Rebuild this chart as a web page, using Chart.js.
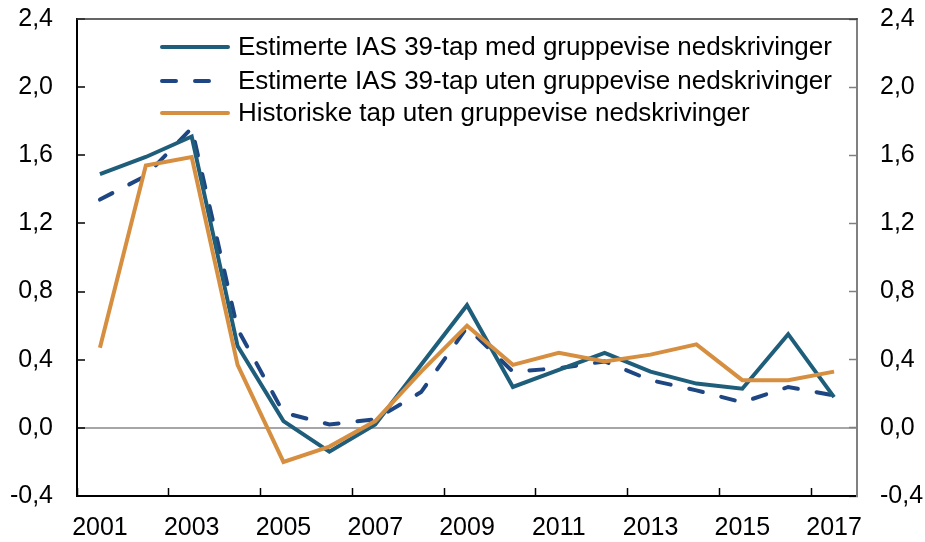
<!DOCTYPE html>
<html>
<head>
<meta charset="utf-8">
<script src="https://cdn.jsdelivr.net/npm/chart.js@4/dist/chart.umd.min.js"></script>
<style>
  html, body { margin: 0; padding: 0; background: #fff; }
  #chart { display: block; }
</style>
</head>
<body>
<canvas id="chart" width="925" height="542"></canvas>
<script>
// --- Data ---
const years = ['2001', '2002', '2003', '2004', '2005', '2006', '2007', '2008', '2009',
               '2010', '2011', '2012', '2013', '2014', '2015', '2016', '2017'];

const medGruppevise = [1.49, 1.59, 1.71, 0.48, 0.04, -0.14, 0.02, 0.37, 0.72,
                       0.24, 0.34, 0.44, 0.33, 0.26, 0.23, 0.55, 0.18];
const utenGruppevise = [1.34, 1.48, 1.76, 0.58, 0.09, 0.02, 0.05, 0.21, 0.59,
                        0.33, 0.35, 0.39, 0.28, 0.22, 0.15, 0.24, 0.19];
const historiske = [0.47, 1.54, 1.59, 0.37, -0.20, -0.11, 0.04, 0.33, 0.60,
                    0.37, 0.44, 0.39, 0.43, 0.49, 0.28, 0.28, 0.33];

const seriesLabels = [
    'Estimerte IAS 39-tap med gruppevise nedskrivinger',
    'Estimerte IAS 39-tap uten gruppevise nedskrivinger',
    'Historiske tap uten gruppevise nedskrivinger'
];

const yMin = -0.4;
const yMax = 2.4;
const yStep = 0.4;

const FONT = '"Liberation Sans", Arial, sans-serif';
const dashPattern = [14, 19];

function formatTick(value) {
    if (Math.abs(value) < 1e-9) value = 0;
    return value.toFixed(1).replace('.', ',');
}

// Legend drawn inside the plot area, top left
const insideLegend = {
    id: 'insideLegend',
    afterDatasetsDraw(chart) {
        const ctx = chart.ctx;
        const x0 = 160, lineLen = 70, textX = 238;
        const rows = [47, 81, 113];
        ctx.save();
        chart.data.datasets.forEach((ds, i) => {
            const y = rows[i];
            ctx.beginPath();
            ctx.lineWidth = ds.borderWidth;
            ctx.strokeStyle = ds.borderColor;
            ctx.lineCap = 'round';
            ctx.setLineDash(ds.borderDash || []);
            ctx.moveTo(x0 + 2, y);
            ctx.lineTo(x0 + lineLen - 2, y);
            ctx.stroke();
            ctx.setLineDash([]);
            ctx.fillStyle = '#000';
            ctx.font = '26px ' + FONT;
            ctx.textAlign = 'left';
            ctx.textBaseline = 'middle';
            ctx.fillText(ds.label, textX, y + 1);
        });
        // top border of the plot area
        const area = chart.chartArea;
        ctx.beginPath();
        ctx.lineWidth = 1.5;
        ctx.strokeStyle = '#333';
        ctx.moveTo(area.left, area.top);
        ctx.lineTo(area.right, area.top);
        ctx.stroke();
        ctx.restore();
    }
};

// Pin axis sizes so the plot area matches the reference
function fixVertical(width) {
    return scale => {
        scale.width = width;
        scale.paddingTop = 0;
        scale.paddingBottom = 0;
    };
}

const ctx = document.getElementById('chart').getContext('2d');
const chart = new Chart(ctx, {
    type: 'line',
    data: {
        labels: years,
        datasets: [
            {
                label: seriesLabels[0],
                data: medGruppevise,
                borderColor: '#1f5e7a',
                borderWidth: 4,
                order: 2
            },
            {
                label: seriesLabels[1],
                data: utenGruppevise,
                borderColor: '#1e4682',
                borderWidth: 4,
                borderDash: dashPattern,
                borderCapStyle: 'round',
                order: 3
            },
            {
                label: seriesLabels[2],
                data: historiske,
                borderColor: '#d68f40',
                borderWidth: 4,
                order: 1
            }
        ]
    },
    options: {
        responsive: false,
        animation: false,
        devicePixelRatio: 1,
        layout: { padding: { top: 19, left: 0, right: 0, bottom: 0 } },
        elements: {
            point: { radius: 0, hoverRadius: 0 },
            line: { tension: 0, fill: false }
        },
        plugins: {
            legend: { display: false },
            tooltip: { enabled: false }
        },
        scales: {
            x: {
                type: 'category',
                offset: true,
                grid: {
                    offset: true,
                    drawOnChartArea: false,
                    tickLength: -8,
                    tickWidth: 1.5,
                    tickColor: c => (c.index % 2 === 0 ? '#000' : 'rgba(0,0,0,0)')
                },
                border: { color: '#000', width: 2 },
                ticks: {
                    autoSkip: false,
                    maxRotation: 0,
                    padding: 25,
                    color: '#000',
                    font: { family: FONT, size: 25 },
                    callback: function(value, index) {
                        return index % 2 === 0 ? this.getLabelForValue(value) : '';
                    }
                },
                afterFit: scale => {
                    scale.height = 46;
                    scale.paddingLeft = 0;
                    scale.paddingRight = 0;
                }
            },
            y: {
                position: 'left',
                min: yMin,
                max: yMax,
                grid: {
                    drawOnChartArea: true,
                    tickLength: -8,
                    tickWidth: 1.5,
                    tickColor: '#000',
                    lineWidth: 2,
                    color: c => (Math.abs(c.tick.value) < 1e-9 ? '#a6a6a6' : 'rgba(0,0,0,0)')
                },
                border: { color: '#000', width: 2 },
                ticks: {
                    stepSize: yStep,
                    padding: 32,
                    color: '#000',
                    font: { family: FONT, size: 25 },
                    callback: value => formatTick(value)
                },
                afterFit: fixVertical(77)
            },
            y2: {
                position: 'right',
                min: yMin,
                max: yMax,
                grid: {
                    drawOnChartArea: false,
                    tickLength: -8,
                    tickWidth: 1.5,
                    tickColor: '#808080'
                },
                border: { color: '#808080', width: 2 },
                ticks: {
                    stepSize: yStep,
                    padding: 31,
                    color: '#000',
                    font: { family: FONT, size: 25 },
                    callback: value => formatTick(value)
                },
                afterFit: fixVertical(68)
            }
        }
    },
    plugins: [insideLegend]
});
</script>
</body>
</html>
